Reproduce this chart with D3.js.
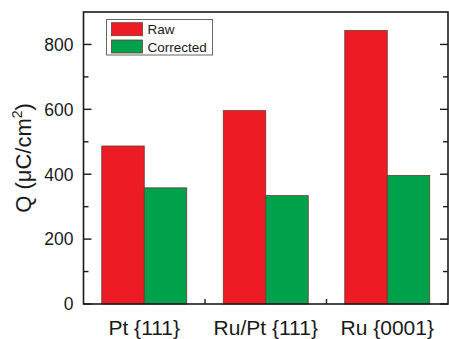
<!DOCTYPE html>
<html>
<head>
<meta charset="utf-8">
<script src="https://cdn.jsdelivr.net/npm/d3@7"></script>
<style>
  html, body { margin: 0; padding: 0; background: #fff; }
  svg { display: block; }
  text { font-family: "Liberation Sans", Arial, Helvetica, sans-serif; fill: #1a1a1a; }
</style>
</head>
<body>
<svg id="chart" width="449" height="339"></svg>
<script>
// Surface charge per electrode
const categories = ["Pt {111}", "Ru/Pt {111}", "Ru {0001}"];
const seriesNames = ["Raw", "Corrected"];
const rawValues = [487, 596, 843];
const correctedValues = [358, 334, 396];
const yTicks = [0, 200, 400, 600, 800];
const seriesColors = ["#ED1C24", "#00A14B"];

const svg = d3.select("#chart");
const margin = { left: 83.5, right: 1, top: 12, bottom: 35 };
const W = 449, H = 339;
const x0 = margin.left, x1 = W - margin.right;
const y0 = H - margin.bottom, y1 = margin.top;

const x = d3.scaleBand().domain(categories).range([x0, x1]).paddingInner(0).paddingOuter(0);
const sub = d3.scaleBand().domain(seriesNames).range([0, x.bandwidth()]).paddingInner(0).paddingOuter(0.43);
const y = d3.scaleLinear().domain([0, 900]).range([y0, y1]);

const table = categories.map((c, i) => ({ cat: c, values: [rawValues[i], correctedValues[i]] }));

// Bars
const g = svg.append("g");
table.forEach(row => {
  row.values.forEach((v, j) => {
    g.append("rect")
      .attr("x", x(row.cat) + sub(seriesNames[j]))
      .attr("y", y(v))
      .attr("width", sub.bandwidth())
      .attr("height", y(0) - y(v))
      .attr("fill", seriesColors[j])
      .attr("stroke", "#6b3b30")
      .attr("stroke-width", 0.8);
  });
});

// Frame
svg.append("rect")
  .attr("x", x0).attr("y", y1)
  .attr("width", x1 - x0).attr("height", y0 - y1)
  .attr("fill", "none").attr("stroke", "#1a1a1a").attr("stroke-width", 1.6);

// Y ticks (inward, both sides) with minor ticks
const minor = d3.range(100, 900, 200);
const tickG = svg.append("g").attr("stroke", "#1a1a1a").attr("stroke-width", 1.4);
yTicks.forEach(t => {
  tickG.append("line").attr("x1", x0).attr("x2", x0 + 8).attr("y1", y(t)).attr("y2", y(t));
  tickG.append("line").attr("x1", x1).attr("x2", x1 - 8).attr("y1", y(t)).attr("y2", y(t));
});
minor.forEach(t => {
  tickG.append("line").attr("x1", x0).attr("x2", x0 + 5).attr("y1", y(t)).attr("y2", y(t));
  tickG.append("line").attr("x1", x1).attr("x2", x1 - 5).attr("y1", y(t)).attr("y2", y(t));
});
// X minor ticks between categories
categories.slice(1).forEach(c => {
  tickG.append("line").attr("x1", x(c)).attr("x2", x(c)).attr("y1", y0).attr("y2", y0 - 5);
});

// Y tick labels
svg.append("g").selectAll("text").data(yTicks).join("text")
  .attr("x", x0 - 10)
  .attr("y", d => y(d))
  .attr("dy", "0.36em")
  .attr("text-anchor", "end")
  .attr("font-size", 17.5)
  .text(d => d);

// X labels
svg.append("g").selectAll("text").data(categories).join("text")
  .attr("x", d => x(d) + x.bandwidth() / 2)
  .attr("y", 335)
  .attr("text-anchor", "middle")
  .attr("font-size", 21)
  .text(d => d);

// Y axis title
const yt = svg.append("text")
  .attr("transform", `translate(31,${(y0 + y1) / 2}) rotate(-90)`)
  .attr("text-anchor", "middle")
  .attr("font-size", 22);
yt.append("tspan").text("Q (\u03BCC/cm");
yt.append("tspan").attr("dy", -9).attr("font-size", 14).text("2");
yt.append("tspan").attr("dy", 9).text(")");

// Legend
const lg = svg.append("g");
lg.append("rect").attr("x", 106.5).attr("y", 19.5).attr("width", 106).attr("height", 35.5)
  .attr("fill", "#fff").attr("stroke", "#666").attr("stroke-width", 1);
seriesNames.forEach((s, i) => {
  lg.append("rect").attr("x", 111.5).attr("y", 22.7 + i * 17.3).attr("width", 31).attr("height", 13)
    .attr("fill", seriesColors[i]).attr("stroke", "#6b3b30").attr("stroke-width", 0.8);
  lg.append("text").attr("x", 147.5).attr("y", 29.5 + i * 17.3).attr("dy", "0.36em")
    .attr("font-size", 13.5).text(s);
});
</script>
</body>
</html>
